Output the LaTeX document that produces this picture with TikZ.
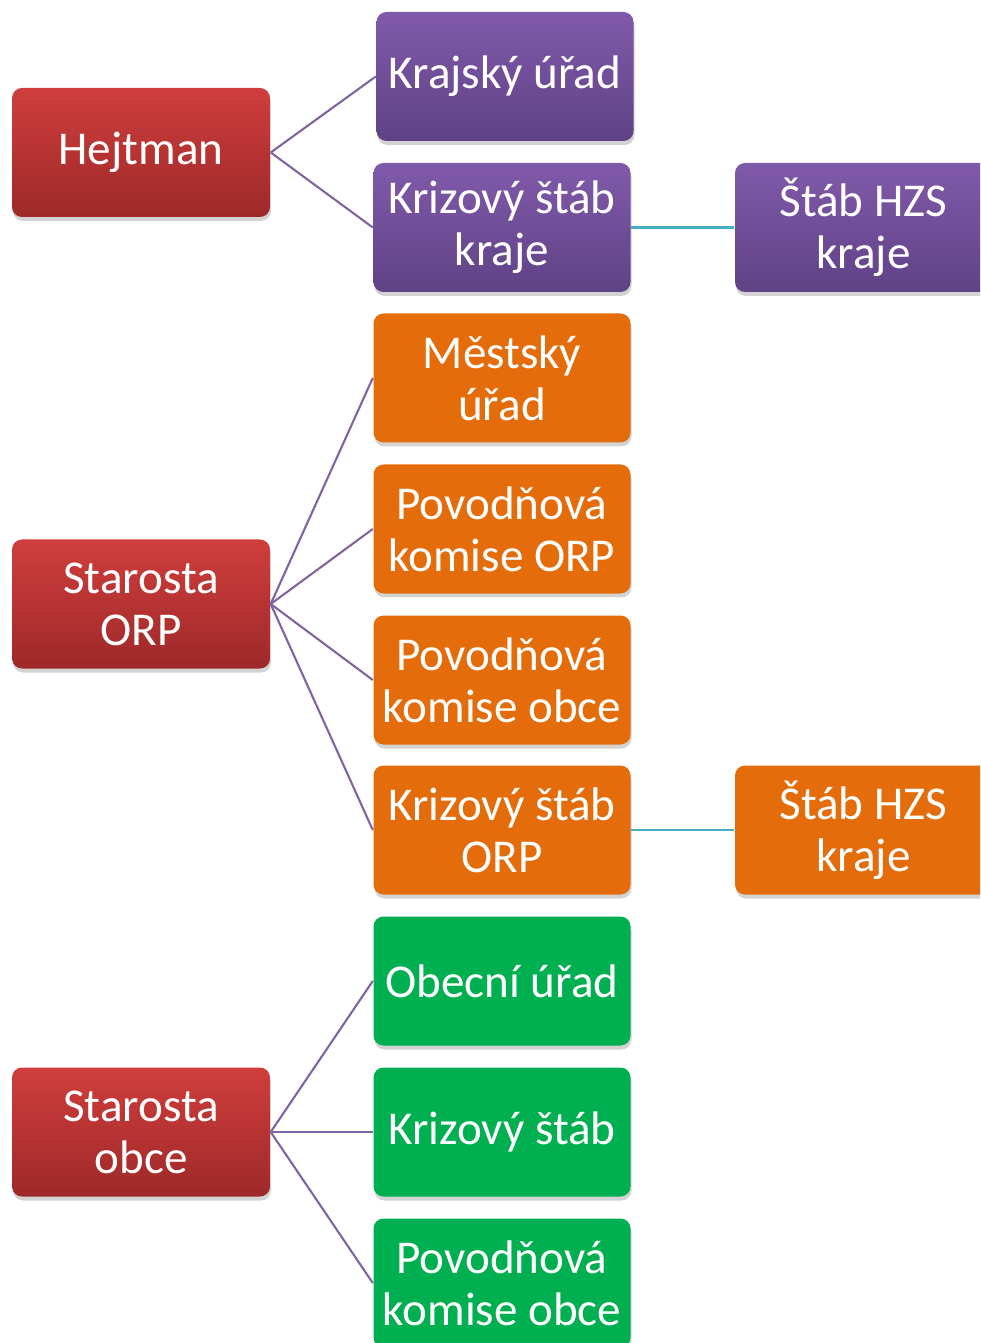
\documentclass[tikz,border=0pt]{standalone}
\usepackage{fontspec}
\setmainfont{Carlito}
\usepackage{xcolor}
\usepackage{tikz}
\usetikzlibrary{shapes,positioning,shadows}

\definecolor{redtop}{RGB}{207,62,60}
\definecolor{redbot}{RGB}{158,41,41}
\definecolor{purtop}{RGB}{128,90,170}
\definecolor{purbot}{RGB}{96,66,134}
\definecolor{orng}{RGB}{228,108,10}
\definecolor{grn}{RGB}{0,176,80}
\definecolor{linkpur}{RGB}{128,100,162}
\definecolor{linkblue}{RGB}{75,172,198}

\begin{document}
\begin{tikzpicture}[
    box/.style={rectangle, rounded corners=0.1cm, minimum width=2.57cm, minimum height=1.29cm,
        inner sep=0pt, align=center, text=white,
        font=\fontsize{13.4}{14.8}\selectfont,
        drop shadow={opacity=0.35, shadow xshift=0.01cm, shadow yshift=-0.04cm}},
    head/.style={box, minimum width=2.58cm, top color=redtop, bottom color=redbot},
    kraj/.style={box, top color=purtop, bottom color=purbot},
    orp/.style={box, fill=orng},
    obec/.style={box, fill=grn},
    link/.style={draw, linkpur, line width=0.6pt},
    staff/.style={draw, linkblue, line width=0.7pt}
]

% Page frame (right and bottom boxes are cut off)
\path[use as bounding box, clip] (0,0) rectangle (9.8,-13.43);

% Kraj
\node[head] (hejtman) at (1.41, -1.525) {Hejtman};
\node[kraj] (kurad) at (5.05, -0.765) {Krajský úřad};
\node[kraj] (kstab) at (5.02, -2.275) {Krizový štáb\\kraje};
\node[kraj] (khzs) at (8.635, -2.275) {Štáb HZS\\kraje};

% ORP
\node[head] (sorp) at (1.41, -6.04) {Starosta\\ORP};
\node[orp] (murad) at (5.02, -3.78) {Městský\\úřad};
\node[orp] (pkorp) at (5.02, -5.29) {Povodňová\\komise ORP};
\node[orp] (pkobce) at (5.02, -6.80) {Povodňová\\komise obce};
\node[orp] (ostab) at (5.02, -8.30) {Krizový štáb\\ORP};
\node[orp] (ohzs) at (8.635, -8.30) {Štáb HZS\\kraje};

% Obec
\node[head] (sobce) at (1.41, -11.32) {Starosta\\obce};
\node[obec] (ourad) at (5.02, -9.81) {Obecní úřad};
\node[obec] (bstab) at (5.02, -11.32) {Krizový štáb};
\node[obec] (bkomise) at (5.02, -12.83) {Povodňová\\komise obce};

% Links from heads
\draw[link] (hejtman.east) -- (kurad.west);
\draw[link] (hejtman.east) -- (kstab.west);
\draw[link] (sorp.east) -- (murad.west);
\draw[link] (sorp.east) -- (pkorp.west);
\draw[link] (sorp.east) -- (pkobce.west);
\draw[link] (sorp.east) -- (ostab.west);
\draw[link] (sobce.east) -- (ourad.west);
\draw[link] (sobce.east) -- (bstab.west);
\draw[link] (sobce.east) -- (bkomise.west);

% Staff links
\draw[staff] (kstab.east) -- (khzs.west);
\draw[staff] (ostab.east) -- (ohzs.west);

\end{tikzpicture}
\end{document}
